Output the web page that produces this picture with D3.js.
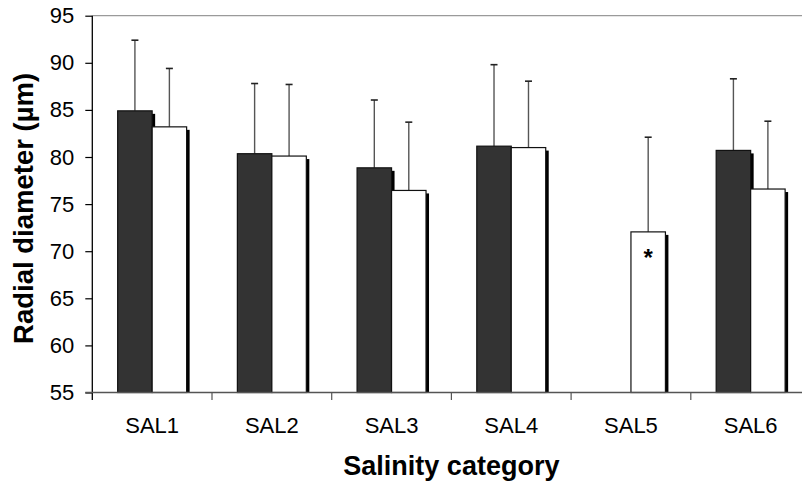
<!DOCTYPE html>
<html>
<head>
<meta charset="utf-8">
<script src="https://cdn.jsdelivr.net/npm/d3@7"></script>
<style>
  html, body { margin: 0; padding: 0; background: #fff; }
  svg { display: block; font-family: Arial, "Liberation Sans", sans-serif; }
</style>
</head>
<body>
<svg id="chart" width="802" height="485"></svg>
<script>
// Mean radial diameter per salinity category, two groups, with SD error bars
const categories = ["SAL1", "SAL2", "SAL3", "SAL4", "SAL5", "SAL6"];
const darkMeans  = [84.9, 80.35, 78.85, 81.15, null, 80.7];
const darkSD     = [7.5, 7.45, 7.2, 8.65, null, 7.6];
const whiteMeans = [83.2, 80.1, 76.45, 81.0, 72.05, 76.6];
const whiteSD    = [6.2, 7.6, 7.25, 7.05, 10.05, 7.2];
const yTicks     = [55, 60, 65, 70, 75, 80, 85, 90, 95];
const starred    = ["SAL5"];   // white bar flagged with an asterisk

const svg = d3.select("#chart");

const plotLeft = 92.3, plotRight = 810.5, plotTop = 15.7, plotBottom = 392.5;

const x = d3.scaleBand()
  .domain(categories)
  .range([plotLeft, plotRight])
  .paddingInner(0.424)
  .paddingOuter(0.212);

const sub = d3.scaleBand()
  .domain(["dark", "white"])
  .range([0, x.bandwidth()]);

const y = d3.scaleLinear().domain([55, 95]).range([plotBottom, plotTop]);

// top border of the plot area
svg.append("line")
  .attr("x1", plotLeft).attr("x2", 802)
  .attr("y1", y(95)).attr("y2", y(95))
  .attr("stroke", "#9a9a9a").attr("stroke-width", 1.3);

// bar records
const rows = [];
categories.forEach((c, i) => {
  if (darkMeans[i] != null) rows.push({cat: c, grp: "dark", v: darkMeans[i], sd: darkSD[i]});
  if (whiteMeans[i] != null) rows.push({cat: c, grp: "white", v: whiteMeans[i], sd: whiteSD[i]});
});

// error bars (upper only), drawn behind bars
const eb = svg.append("g");
rows.forEach(d => {
  const cx = x(d.cat) + sub(d.grp) + sub.bandwidth() / 2;
  eb.append("line")
    .attr("x1", cx).attr("x2", cx)
    .attr("y1", y(d.v)).attr("y2", y(d.v + d.sd))
    .attr("stroke", "#555").attr("stroke-width", 1.4);
  eb.append("line")
    .attr("x1", cx - 3.5).attr("x2", cx + 3.5)
    .attr("y1", y(d.v + d.sd)).attr("y2", y(d.v + d.sd))
    .attr("stroke", "#222").attr("stroke-width", 1.6);
});

// drop shadows
svg.append("g").selectAll("rect").data(rows).join("rect")
  .attr("x", d => x(d.cat) + sub(d.grp) + 3)
  .attr("y", d => y(d.v) + 3)
  .attr("width", sub.bandwidth())
  .attr("height", d => plotBottom - y(d.v) - 3)
  .attr("fill", "#000");

// bars
svg.append("g").selectAll("rect").data(rows).join("rect")
  .attr("x", d => x(d.cat) + sub(d.grp))
  .attr("y", d => y(d.v))
  .attr("width", sub.bandwidth())
  .attr("height", d => plotBottom - y(d.v))
  .attr("fill", d => d.grp === "dark" ? "#333333" : "#ffffff")
  .attr("stroke", "#111").attr("stroke-width", 1.2);

// asterisk on flagged bars
rows.filter(d => d.grp === "white" && starred.includes(d.cat)).forEach(d => {
  svg.append("text")
    .attr("x", x(d.cat) + sub(d.grp) + sub.bandwidth() / 2)
    .attr("y", y(d.v) + 34)
    .attr("text-anchor", "middle")
    .attr("font-size", 24).attr("font-weight", "bold")
    .text("*");
});

// y axis
const yAxis = svg.append("g")
  .attr("transform", `translate(${plotLeft},0)`)
  .call(d3.axisLeft(y).tickValues(yTicks).tickSize(7).tickPadding(11).tickSizeOuter(0));
yAxis.select(".domain").attr("stroke", "#000").attr("stroke-width", 1.3)
  .attr("d", `M0,${plotTop}V${plotBottom + 7.5}`);
yAxis.selectAll(".tick line").attr("stroke", "#000").attr("stroke-width", 1.2);
yAxis.selectAll(".tick text")
  .attr("font-size", 22).attr("fill", "#000")
  .attr("font-family", "Arial, 'Liberation Sans', sans-serif");

// x axis: baseline with ticks at category boundaries
const xg = svg.append("g");
xg.append("line")
  .attr("x1", plotLeft - 7).attr("x2", 802)
  .attr("y1", plotBottom).attr("y2", plotBottom)
  .attr("stroke", "#555").attr("stroke-width", 1.4);
const step = x.step();
categories.forEach((c, i) => {
  if (i === 0) return;
  const bx = x(c) - (step - x.bandwidth()) / 2;
  xg.append("line")
    .attr("x1", bx).attr("x2", bx)
    .attr("y1", plotBottom).attr("y2", plotBottom + 7.5)
    .attr("stroke", "#555").attr("stroke-width", 1.2);
});
xg.selectAll("text.cat").data(categories).join("text")
  .attr("class", "cat")
  .attr("x", d => x(d) + x.bandwidth() / 2)
  .attr("y", 433.3)
  .attr("text-anchor", "middle")
  .attr("font-size", 22)
  .text(d => d);

// axis titles
svg.append("text")
  .attr("x", (plotLeft + plotRight) / 2)
  .attr("y", 475)
  .attr("text-anchor", "middle")
  .attr("font-size", 27).attr("font-weight", "bold")
  .text("Salinity category");

svg.append("text")
  .attr("transform", `translate(33,${(70 + 346.7) / 2}) rotate(-90)`)
  .attr("text-anchor", "middle")
  .attr("font-size", 27.5).attr("font-weight", "bold")
  .text("Radial diameter (µm)");
</script>
</body>
</html>
